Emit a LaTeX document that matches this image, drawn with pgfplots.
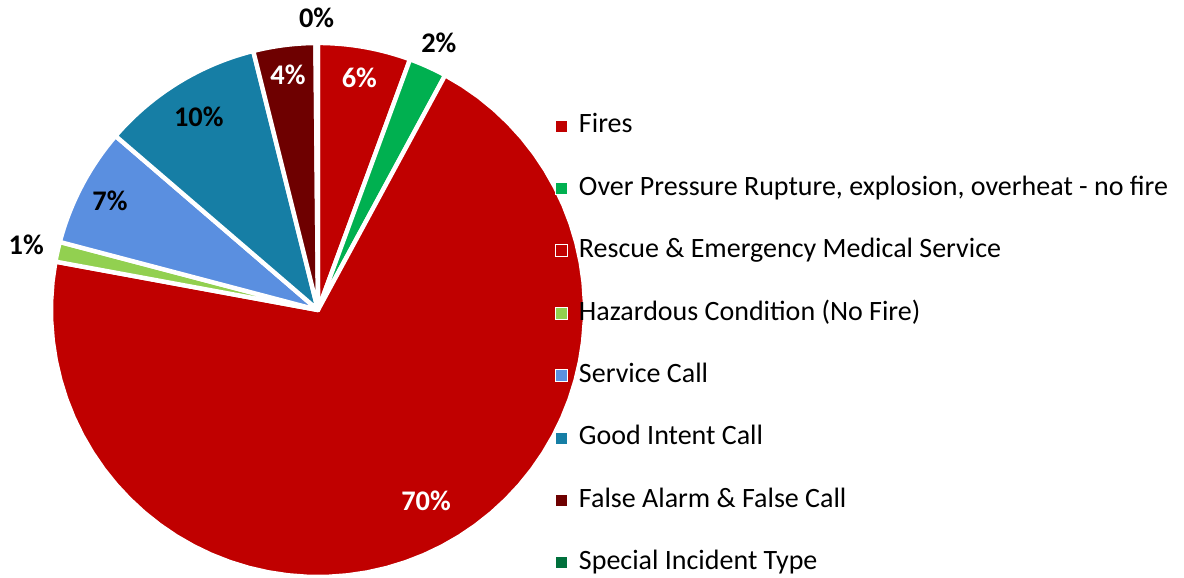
\documentclass[border=0pt]{standalone}
\usepackage{pgfplots}
\usepackage{pgfplotstable}
\pgfplotsset{compat=1.18}
\usepackage{fontspec}
\setmainfont{Carlito}
\definecolor{cFires}{HTML}{C00000}
\definecolor{cOver}{HTML}{00B050}
\definecolor{cRescue}{HTML}{C00000}
\definecolor{cHaz}{HTML}{92D050}
\definecolor{cServ}{HTML}{5A8FE0}
\definecolor{cGood}{HTML}{167EA5}
\definecolor{cFalse}{HTML}{6E0000}
\definecolor{cSpec}{HTML}{00703C}
\pgfplotstableread{
idx value
0 5.6
1 2.3
2 70.0
3 1.2
4 7.2
5 9.8
6 3.75
7 0.15
}\pietable
\newcommand\getval[2]{\pgfplotstablegetelem{#1}{value}\of\pietable\let#2\pgfplotsretval}
\begin{document}
\begin{tikzpicture}[lbl/.style={font=\fontsize{14.2}{17}\selectfont\bfseries, anchor=center}]
\useasboundingbox (0,0) rectangle (592pt,289pt);
\getval{0}\vA \getval{1}\vB \getval{2}\vC \getval{3}\vD
\getval{4}\vE \getval{5}\vF \getval{6}\vG \getval{7}\vH
\pgfmathsetmacro\aA{90}
\pgfmathsetmacro\aB{\aA-3.6*\vA}
\pgfmathsetmacro\aC{\aB-3.6*\vB}
\pgfmathsetmacro\aD{\aC-3.6*\vC}
\pgfmathsetmacro\aE{\aD-3.6*\vD}
\pgfmathsetmacro\aF{\aE-3.6*\vE}
\pgfmathsetmacro\aG{\aF-3.6*\vF}
\pgfmathsetmacro\aH{\aG-3.6*\vG}
\pgfmathsetmacro\aI{\aH-3.6*\vH}
\pgfmathsetmacro\mA{(\aA+\aB)/2}
\pgfmathsetmacro\mB{(\aB+\aC)/2}
\pgfmathsetmacro\mC{(\aC+\aD)/2+4}
\pgfmathsetmacro\mD{(\aD+\aE)/2}
\pgfmathsetmacro\mE{(\aE+\aF)/2}
\pgfmathsetmacro\mF{(\aF+\aG)/2}
\pgfmathsetmacro\mG{(\aG+\aH)/2}
\pgfmathsetmacro\mH{(\aH+\aI)/2}
\begin{axis}[
  at={(159pt,134pt)}, anchor=center,
  scale only axis, width=267pt, height=267pt,
  xmin=-1, xmax=1, ymin=-1, ymax=1,
  hide axis, clip=false,
  legend cell align=left,
  legend image code/.code={\draw[#1] (0pt,-3pt) rectangle (6pt,3pt);},
  legend style={at={(0.9438,0.4354)}, anchor=west, draw=none, fill=none,
    inner sep=0pt, row sep=18.2pt,
    font=\fontsize{14}{17}\selectfont,
    nodes={inner sep=0pt, text height=9.9pt, text depth=3.1pt},
    /tikz/every odd column/.style={column sep=5.3pt}},
  slice/.style={draw=white, line width=2.2pt, line join=round, domain=#1, samples=60, forget plot},
]
\addplot[fill=cFires, slice=\aA:\aB] ({cos(x)},{sin(x)}) -- (0,0) -- cycle;
\addplot[fill=cOver, slice=\aB:\aC] ({cos(x)},{sin(x)}) -- (0,0) -- cycle;
\addplot[fill=cRescue, slice=\aC:\aD] ({cos(x)},{sin(x)}) -- (0,0) -- cycle;
\addplot[fill=cHaz, slice=\aD:\aE] ({cos(x)},{sin(x)}) -- (0,0) -- cycle;
\addplot[fill=cServ, slice=\aE:\aF] ({cos(x)},{sin(x)}) -- (0,0) -- cycle;
\addplot[fill=cGood, slice=\aF:\aG] ({cos(x)},{sin(x)}) -- (0,0) -- cycle;
\addplot[fill=cFalse, slice=\aG:\aH] ({cos(x)},{sin(x)}) -- (0,0) -- cycle;
\addplot[fill=cSpec, slice=\aH:\aI] ({cos(x)},{sin(x)}) -- (0,0) -- cycle;
\node[lbl, text=white] at ({0.885*cos(\mA)},{0.885*sin(\mA)}) {6\%};
\node[lbl] at ({1.10*cos(\mB)},{1.10*sin(\mB)}) {2\%};
\node[lbl, text=white] at ({0.82*cos(\mC)},{0.82*sin(\mC)}) {70\%};
\node[lbl] at ({1.12*cos(\mD)},{1.12*sin(\mD)}) {1\%};
\node[lbl] at ({0.88*cos(\mE)},{0.88*sin(\mE)}) {7\%};
\node[lbl] at ({0.85*cos(\mF)},{0.85*sin(\mF)}) {10\%};
\node[lbl, text=white] at ({0.887*cos(\mG)},{0.887*sin(\mG)}) {4\%};
\node[lbl] at ({1.095*cos(\mH)},{1.095*sin(\mH)}) {0\%};
\addlegendimage{fill=cFires, draw=white, line width=0.5pt}
\addlegendentry{Fires}
\addlegendimage{fill=cOver, draw=white, line width=0.5pt}
\addlegendentry{Over Pressure Rupture, explosion, overheat - no fire}
\addlegendimage{fill=cRescue, draw=white, line width=0.5pt}
\addlegendentry{Rescue \& Emergency Medical Service}
\addlegendimage{fill=cHaz, draw=white, line width=0.5pt}
\addlegendentry{Hazardous Condition (No Fire)}
\addlegendimage{fill=cServ, draw=white, line width=0.5pt}
\addlegendentry{Service Call}
\addlegendimage{fill=cGood, draw=white, line width=0.5pt}
\addlegendentry{Good Intent Call}
\addlegendimage{fill=cFalse, draw=white, line width=0.5pt}
\addlegendentry{False Alarm \& False Call}
\addlegendimage{fill=cSpec, draw=white, line width=0.5pt}
\addlegendentry{Special Incident Type}
\end{axis}
\end{tikzpicture}
\end{document}
